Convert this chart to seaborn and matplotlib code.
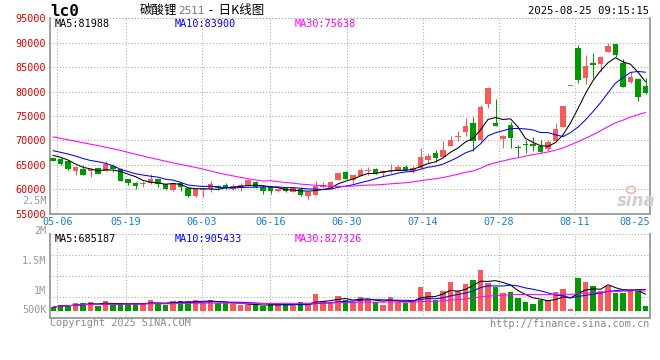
import numpy as np
import pandas as pd
import matplotlib
matplotlib.use("Agg")
import matplotlib.pyplot as plt
import matplotlib.transforms as mtrans
import seaborn as sns

# ---------------- data ----------------
dates = ["04-30",
         "05-06", "05-07", "05-08", "05-09", "05-12", "05-13", "05-14", "05-15", "05-16",
         "05-19", "05-20", "05-21", "05-22", "05-23", "05-26", "05-27", "05-28", "05-29", "05-30",
         "06-03", "06-04", "06-05", "06-06", "06-09", "06-10", "06-11", "06-12", "06-13",
         "06-16", "06-17", "06-18", "06-19", "06-20", "06-23", "06-24", "06-25", "06-26", "06-27",
         "06-30", "07-01", "07-02", "07-03", "07-04", "07-07", "07-08", "07-09", "07-10", "07-11",
         "07-14", "07-15", "07-16", "07-17", "07-18", "07-21", "07-22", "07-23", "07-24", "07-25",
         "07-28", "07-29", "07-30", "07-31", "08-01", "08-04", "08-05", "08-06", "08-07", "08-08",
         "08-11", "08-12", "08-13", "08-14", "08-15", "08-18", "08-19", "08-20", "08-21", "08-22",
         "08-25"]

opens = [66340, 66140, 65790, 63800, 64210, 63740, 64360, 63740, 64830, 64090,
         62040, 61350, 61080, 61220, 62040, 61080, 59850, 61220, 60200, 58680,
         59850, 60120, 60670, 60880, 60060, 60200, 60880, 61550, 60530, 60400,
         59710, 60200, 59500, 60100, 58560, 58830, 60530, 60320, 61900, 63470,
         61900, 62780, 63800, 64090, 63270, 63750, 63800, 64560, 63740, 64290,
         65990, 67490, 66670, 68920, 70800, 71790, 73500, 70000, 77460, 73500,
         70230, 73160, 68720, 69210, 69270, 68920, 68180, 69880, 72810, 81140,
         88860, 82680, 85790, 85580, 88160, 89740, 85910, 82020, 82510, 81140]
highs = [66400, 66340, 65850, 64560, 64910, 64200, 64420, 65790, 65110, 64290,
         62100, 61400, 61760, 63130, 62100, 61150, 61400, 61300, 60250, 60000,
         60200, 61760, 60880, 61350, 61020, 61350, 62100, 61760, 60880, 60500,
         60200, 60530, 60300, 60530, 59400, 61700, 61550, 61690, 63350, 63740,
         62900, 64290, 64500, 64420, 63950, 65170, 64910, 64910, 64760, 68390,
         67400, 68040, 69940, 70970, 71930, 74530, 74860, 77250, 80900, 78480,
         71110, 73830, 69060, 70090, 70640, 70090, 70090, 73500, 77050, 81140,
         89530, 87500, 87960, 87200, 90000, 89800, 86600, 83940, 82720, 82720]
lows = [65800, 64970, 63950, 62980, 62900, 62570, 63070, 63700, 63470, 61700,
        60940, 60120, 60530, 61150, 60530, 59950, 59650, 59600, 58360, 58480,
        58480, 59380, 59850, 59990, 59850, 59710, 60670, 60200, 58970, 58970,
        59500, 59500, 59400, 58620, 58100, 58780, 60200, 60300, 61850, 62040,
        61220, 62700, 62920, 63200, 62800, 63390, 63750, 63900, 63270, 64200,
        65300, 65520, 66600, 68850, 69940, 70900, 67840, 69900, 76580, 73010,
        68510, 68510, 66670, 67360, 67840, 67360, 67840, 69800, 72810, 81140,
        81690, 81500, 82840, 84070, 88100, 87140, 80870, 81690, 78130, 79500]
closes = [65850, 65110, 64090, 64500, 62980, 64150, 63190, 65170, 64090, 61760,
          61220, 60730, 61290, 62170, 61020, 60000, 61350, 60530, 58680, 59990,
          59990, 61080, 60200, 60200, 60670, 60880, 61900, 60530, 59650, 59710,
          59990, 59710, 60200, 58830, 59340, 60600, 60810, 61490, 63270, 62100,
          62860, 63950, 63950, 63270, 63740, 63850, 64560, 63950, 64290, 66670,
          66810, 66340, 68040, 70090, 71000, 72950, 69880, 76840, 80790, 73010,
          70910, 70560, 68510, 69060, 68920, 67690, 69740, 72340, 77050, 81140,
          82370, 85230, 85440, 87140, 89330, 87490, 81000, 83040, 78950, 79650]

ma5_head = [66950, 66550, 65990, 65170]
ma10_head = [67900, 67570, 67220, 66800, 66300, 65900, 65650, 65320, 64800]
ma30_head = [70720, 70430, 70130, 69840, 69530, 69230, 68940, 68610, 68290, 67960,
             67550, 67180, 66810, 66440, 66100, 65750, 65400, 65090, 64780, 64480,
             64130, 63740, 63370, 63040, 62740, 62430, 62160, 61920, 61670]

volumes = [150, 250, 250, 320, 320, 380, 200, 420, 240, 320,
           290, 280, 320, 465, 320, 250, 420, 420, 420, 465,
           320, 465, 320, 320, 280, 250, 250, 250, 200, 280,
           280, 280, 200, 380, 280, 730, 420, 380, 650, 465,
           390, 600, 465, 390, 250, 600, 390, 320, 465, 1030,
           810, 465, 870, 1250, 860, 1170, 1340, 1780, 1220, 1020,
           770, 810, 550, 380, 290, 480, 465, 810, 940, 75,
           1420, 1250, 1070, 840, 1070, 780, 780, 870, 930, 200]  # thousands

price_ticks = [55000, 60000, 65000, 70000, 75000, 80000, 85000, 90000, 95000]
label_dates = ["05-06", "05-19", "06-03", "06-16", "06-30", "07-14", "07-28", "08-11", "08-25"]
vol_labels = ["2.5M", "2M", "1.5M", "1M", "500K"]

# ---------------- derived table ----------------
df = pd.DataFrame({"date": dates, "open": opens, "high": highs, "low": lows,
                   "close": closes, "vol": np.array(volumes) * 1000.0})
df["i"] = np.arange(len(df))
c = df["close"]
ma5 = c.rolling(5).mean().to_numpy()
ma5[:len(ma5_head)] = ma5_head
ma10 = c.rolling(10).mean().to_numpy()
ma10[:len(ma10_head)] = ma10_head
ma30 = c.rolling(30).mean().to_numpy()
ma30[:len(ma30_head)] = ma30_head
df["ma5"], df["ma10"], df["ma30"] = ma5, ma10, ma30
v = df["vol"]
df["vma5"] = v.rolling(5, min_periods=1).mean()
df["vma10"] = v.rolling(10, min_periods=1).mean()
df["vma30"] = v.rolling(30, min_periods=1).mean()

# ---------------- style ----------------
sns.set_style("white")
plt.rcParams["font.family"] = ["DejaVu Sans Mono", "Noto Sans CJK SC"]
RED = "#f75a5a"
GREEN = "#009a00"
GRID = "#a8a8a8"
SPINE = "#9a9a9a"
MONO = 7.3

W, H = 660, 360
fig = plt.figure(figsize=(W / 100, H / 100), dpi=100)
fig.patch.set_facecolor("white")

def fx(px):
    return px / W

def fy(py):
    return 1 - py / H

P_TOP, P_BOT = 18.3, 213.7
V_TOP, V_BOT = 234.3, 318.0
LEFT, RIGHT = 50, 650
ax = fig.add_axes([fx(LEFT), fy(P_BOT), fx(RIGHT - LEFT), (P_BOT - P_TOP) / H])
axv = fig.add_axes([fx(LEFT), fy(V_BOT), fx(RIGHT - LEFT), (V_BOT - V_TOP) / H])

XMIN, XMAX = -0.4, 79.6
for a in (ax, axv):
    a.set_xlim(XMIN, XMAX)
    a.set_facecolor("white")
    for s in ("left", "bottom", "right"):
        a.spines[s].set_color(SPINE)
        a.spines[s].set_linewidth(1.3)
    a.spines["top"].set_visible(False)
    a.set_xticks([])
    a.tick_params(length=0)

# grid x positions (reference grid runs on a slightly wider step than the candles)
date_idx = [dates.index(d) for d in label_dates]
grid_x = [-0.442 + 1.0151 * k for k in date_idx]
dot = (0, (1, 2))
for a in (ax, axv):
    for gx in grid_x:
        if gx < XMAX - 0.2:
            a.axvline(gx, color=GRID, lw=0.75, ls=dot, zorder=0)

# ---------------- price panel ----------------
ax.set_ylim(55000, 95000)
ax.set_yticks(price_ticks)
ax.set_yticklabels([str(t) for t in price_ticks], color="#e00000", fontsize=MONO)
ax.tick_params(axis="y", pad=3)
for t in price_ticks[1:]:
    ax.axhline(t, color=GRID, lw=0.75, ls=dot, zorder=0)

up = df["close"] >= df["open"]
cols = np.where(up, RED, GREEN)
ax.vlines(df["i"], df["low"], df["high"], colors=cols, lw=0.75, zorder=2)
body_lo = np.minimum(df["open"], df["close"])
body_h = np.maximum(np.abs(df["close"] - df["open"]), 160)
ax.bar(df["i"], body_h, bottom=body_lo, width=0.74, color=cols, linewidth=0, zorder=3)

for col, colr in (("ma5", "black"), ("ma10", "#0000ff"), ("ma30", "#ff00ff")):
    sns.lineplot(data=df, x="i", y=col, color=colr, lw=0.75, ax=ax, zorder=4, legend=False)
ax.set_xlabel("")
ax.set_ylabel("")

# ---------------- volume panel ----------------
VPX = 23.0  # pixels per million
base_px = 310.7
vmin = -(V_BOT - base_px) / VPX * 1e6
vmax = (base_px - V_TOP) / VPX * 1e6
axv.set_ylim(vmin, vmax)
axv.set_yticks([])
for f in (0.25, 0.5, 0.75, 1.0):
    axv.plot([0, 1], [f, f], transform=axv.transAxes, color=GRID, lw=0.75, ls=dot, zorder=0,
             clip_on=False)
axv.bar(df["i"], df["vol"], width=0.78, color=cols, linewidth=0, zorder=2)
for col, colr in (("vma5", "black"), ("vma10", "#0000ff"), ("vma30", "#ff00ff")):
    sns.lineplot(data=df, x="i", y=col, color=colr, lw=0.75, ax=axv, zorder=4, legend=False)
axv.set_xlabel("")
axv.set_ylabel("")
# top dotted border of price panel
ax.plot([0, 1], [1, 1], transform=ax.transAxes, color=GRID, lw=0.75, ls=dot, clip_on=False)

# x labels
blend = mtrans.blended_transform_factory(ax.transData, fig.transFigure)
for k, (lab, gx) in enumerate(zip(label_dates, grid_x)):
    if gx > XMAX - 2:
        fig.text(fx(649.5), fy(221.7), lab, ha="right", va="center", color="#1a7fd0", fontsize=MONO)
    else:
        ax.text(gx, fy(221.7), lab, ha="center", va="center", color="#1a7fd0",
                fontsize=MONO, transform=blend)

# volume axis labels (as placed in the reference)
for lab, py in zip(vol_labels, [200.5, 230.7, 261.0, 291.0, 310.0]):
    fig.text(fx(46.5), fy(py), lab, ha="right", va="center", color="#999999", fontsize=MONO)

# ---------------- header texts ----------------
fig.text(fx(50), fy(11), "lc0", ha="left", va="center", fontsize=11.5, fontweight="bold",
         color="black", family="DejaVu Sans Mono")
t1 = fig.text(fx(140), fy(10.5), "碳酸锂", ha="left", va="center", fontsize=9,
              family="Noto Sans CJK SC", color="black")
t2 = ax.annotate("2511", xy=(1, 0.5), xycoords=t1, xytext=(0.5, 0), textcoords="offset points",
                 ha="left", va="center", fontsize=7.5, color="#777777", family="DejaVu Sans")
ax.annotate(" -  日K线图", xy=(1, 0.5), xycoords=t2, xytext=(1, 0), textcoords="offset points",
            ha="left", va="center", fontsize=9, color="black", family=["Noto Sans CJK SC"])
fig.text(fx(649), fy(11), "2025-08-25 09:15:15", ha="right", va="center", fontsize=7.6, color="black")

for lab, px, colr in (("MA5:81988", 55, "black"), ("MA10:83900", 174.5, "#0000ff"),
                      ("MA30:75638", 295, "#ff00ff")):
    fig.text(fx(px), fy(23.7), lab, ha="left", va="center", fontsize=MONO, color=colr)
for lab, px, colr in (("MA5:685187", 55, "black"), ("MA10:905433", 174.5, "#0000ff"),
                      ("MA30:827326", 295, "#ff00ff")):
    fig.text(fx(px), fy(238.5), lab, ha="left", va="center", fontsize=MONO, color=colr)

fig.text(fx(50), fy(323.5), "Copyright 2025 SINA.COM", ha="left", va="center", fontsize=MONO,
         color="#888888")
fig.text(fx(649), fy(324), "http://finance.sina.com.cn", ha="right", va="center", fontsize=MONO,
         color="#888888")

# sina watermark
fig.text(fx(636), fy(201), "sina", ha="center", va="center", fontsize=12, fontweight="bold",
         style="italic", color="#cfcfcf", family="DejaVu Sans")
fig.patches.append(matplotlib.patches.Ellipse((fx(631), fy(190)), 9 / W, 7 / H,
                                              transform=fig.transFigure, fill=False,
                                              edgecolor="#f3b0b0", lw=1.2))

fig.savefig("out.png", dpi=100, facecolor="white")
